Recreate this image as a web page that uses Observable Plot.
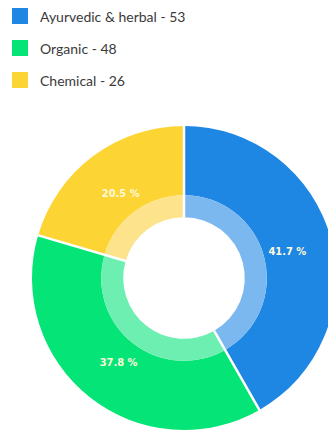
<!DOCTYPE html>
<html><head><meta charset="utf-8">
<script src="https://cdn.jsdelivr.net/npm/d3@7"></script>
<script src="https://cdn.jsdelivr.net/npm/@observablehq/plot@0.6"></script>
<style>
html,body{margin:0;padding:0;background:#fff;width:328px;height:435px;overflow:hidden;}
#legend{height:100px;position:relative;font-family:Lato,"Open Sans",sans-serif;font-size:14px;color:#3a3a3a;}
.item{position:absolute;left:12px;height:16px;display:flex;align-items:center;}
.sw{width:16px;height:16px;margin-right:12px;}
#chart svg{display:block;overflow:hidden;}
</style></head>
<body>
<div id="legend"></div>
<div id="chart"></div>
<script>
const categories = ["Ayurvedic & herbal", "Organic", "Chemical"];
const values = [53, 48, 26];
const colors = ["#1e86e3", "#05e476", "#fcd433"];
const lightColors = ["#7cb8f0", "#6cefb0", "#fde48c"];

const total = d3.sum(values);
const data = categories.map((c, i) => ({category: c, value: values[i], pct: values[i] / total * 100}));

// legend
const legend = document.getElementById("legend");
data.forEach((d, i) => {
  const it = document.createElement("div");
  it.className = "item";
  it.style.top = (8 + i * 32) + "px";
  it.innerHTML = `<span class="sw" style="background:${colors[i]}"></span><span>${d.category} - ${d.value}</span>`;
  legend.appendChild(it);
});

const pie = d3.pie().value(d => d.value).sort(null)(data);

const R = 152;          // outer radius in px
const cx = 184, cy = 178;

function donut(index, scales) {
  const x0 = scales.x(0), y0 = scales.y(0);
  const r = scales.x(1) - x0;
  const g = d3.create("svg:g").attr("transform", `translate(${x0},${y0})`);
  const outer = d3.arc().innerRadius(r * 0.545).outerRadius(r);
  const inner = d3.arc().innerRadius(r * 0.40).outerRadius(r * 0.545);
  g.selectAll("path.o").data(pie).join("path").attr("d", outer)
    .attr("fill", (d, i) => colors[i]);
  g.selectAll("path.i").data(pie).join("path").attr("d", inner)
    .attr("fill", (d, i) => lightColors[i]);
  g.selectAll("path.s").data(pie).join("path")
    .attr("d", d => { const a = d.startAngle; return `M${Math.sin(a)*r*0.40},${-Math.cos(a)*r*0.40}L${Math.sin(a)*r*1.01},${-Math.cos(a)*r*1.01}`; })
    .attr("stroke", "#fff").attr("stroke-width", 2.5);
  return g.node();
}

const labelR = 0.70;
const labels = pie.map(p => {
  const a = (p.startAngle + p.endAngle) / 2;
  return {x: Math.sin(a) * labelR, y: Math.cos(a) * labelR, text: p.data.pct.toFixed(1) + " %"};
});

const chart = Plot.plot({
  width: 328,
  height: 335,
  margin: 0,
  style: {background: "transparent", overflow: "hidden"},
  x: {type: "linear", domain: [-1, 1], range: [cx - R, cx + R], axis: null},
  y: {type: "linear", domain: [-1, 1], range: [cy + R, cy - R], axis: null},
  marks: [
    donut,
    Plot.text(labels, {x: "x", y: "y", text: "text", fill: "#fdf8dc",
      fontSize: 11, fontWeight: "bold", fontFamily: "'DejaVu Sans Condensed', sans-serif"})
  ]
});
document.getElementById("chart").appendChild(chart);
</script>
</body></html>
